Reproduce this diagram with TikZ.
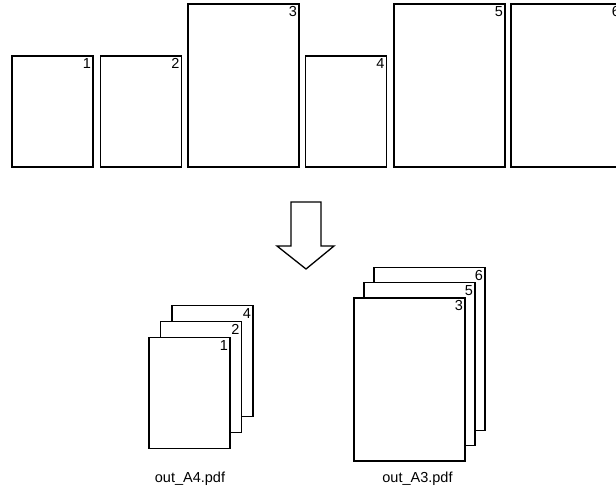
\documentclass[tikz,border=0pt]{standalone}
\usepackage{fontspec}
\setmainfont{Liberation Sans}
\usepackage{tikz}

\begin{document}
\begin{tikzpicture}[x=1pt,y=-1pt,
        page/.style={draw,fill=white,line width=1.3pt,inner sep=0pt},
        afour/.style={page,minimum width=81pt,minimum height=111pt},
        athree/.style={page,minimum width=111pt,minimum height=163pt},
        pagenum/.style={anchor=north east,inner sep=0pt,font=\fontsize{14.5}{16}\selectfont},
        filename/.style={inner sep=0pt,font=\fontsize{14.5}{16}\selectfont}]
        \clip (0,0) rectangle (616,491);
        % input pages
        \node[afour] (in1) at (52.5,111.5) {};
        \node[afour] (in2) at (141,111.5) {};
        \node[athree] (in3) at (243.5,85.5) {};
        \node[afour] (in4) at (346,111.5) {};
        \node[athree] (in5) at (449.5,85.5) {};
        \node[athree] (in6) at (566.5,85.5) {};
        \foreach \p/\n in {in1/1,in2/2,in3/3,in4/4,in5/5,in6/6}
            \node[pagenum] (\p num) at ([xshift=-2.5pt,yshift=-3pt]\p.north east) {\n};
        % split arrow
        \draw[line width=1.3pt,fill=white] (291,202) -- (321,202) -- (321,246) -- (334,246)
            -- (306,269) -- (277,246) -- (291,246) -- cycle;
        % A4 output
        \node[afour] (four3) at (212.5,361) {};
        \node[afour] (four2) at (201,377) {};
        \node[afour] (four1) at (189.5,393) {};
        % A3 output
        \node[athree] (three3) at (429.5,349) {};
        \node[athree] (three2) at (419.5,364) {};
        \node[athree] (three1) at (409.5,379.5) {};
        \foreach \p/\n in {four3/4,four2/2,four1/1,three3/6,three2/5,three1/3}
            \node[pagenum] (\p num) at ([xshift=-2.5pt,yshift=-3pt]\p.north east) {\n};
        \node[filename] (outfour) at (190,479) {out\_A4.pdf};
        \node[filename] (outthree) at (417.5,479) {out\_A3.pdf};
    \end{tikzpicture}
\end{document}
